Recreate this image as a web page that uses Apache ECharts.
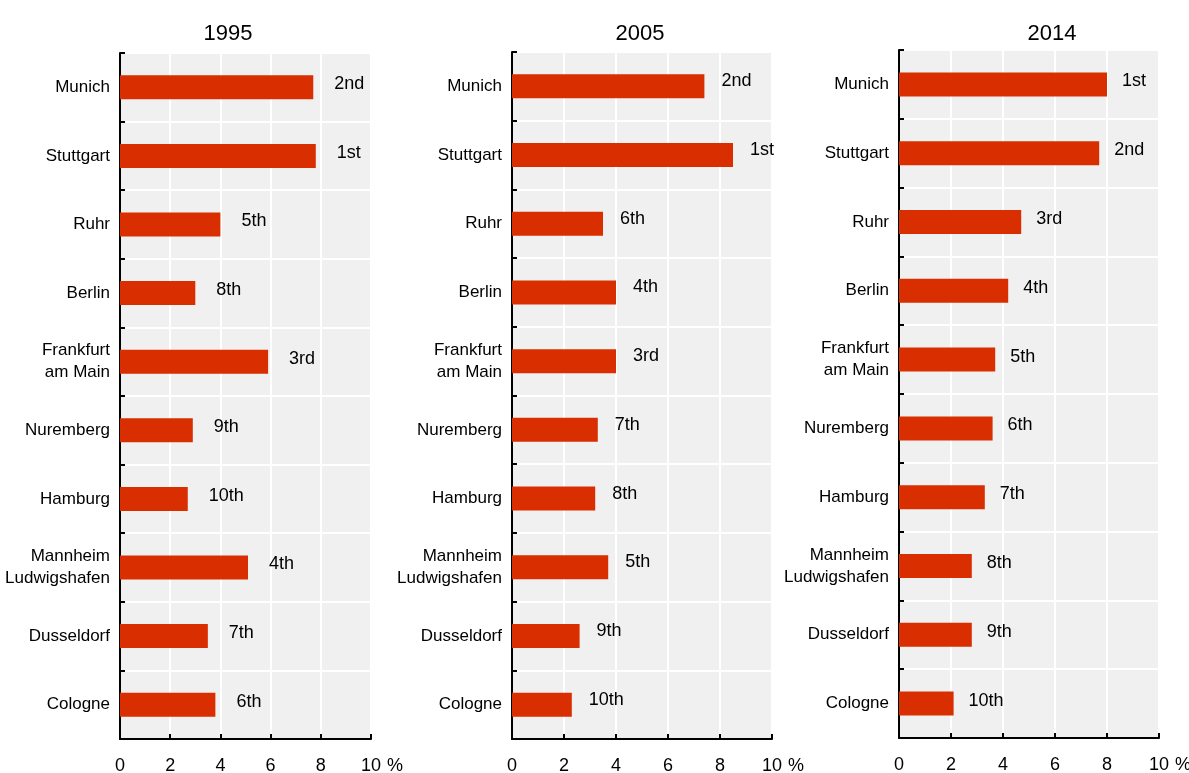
<!DOCTYPE html>
<html>
<head>
<meta charset="utf-8">
<script src="https://cdn.jsdelivr.net/npm/echarts@6/dist/echarts.min.js"></script>
<style>
  html, body { margin: 0; padding: 0; background: #fff; }
  #chart { width: 1189px; height: 773px; }
</style>
</head>
<body>
<div id="chart"></div>
<script>
// data
var years = ['1995', '2005', '2014'];
var cities = ['Munich', 'Stuttgart', 'Ruhr', 'Berlin', 'Frankfurt\nam Main', 'Nuremberg',
    'Hamburg', 'Mannheim\nLudwigshafen', 'Dusseldorf', 'Cologne'];
var values1995 = [7.7, 7.8, 4.0, 3.0, 5.9, 2.9, 2.7, 5.1, 3.5, 3.8];
var values2005 = [7.4, 8.5, 3.5, 4.0, 4.0, 3.3, 3.2, 3.7, 2.6, 2.3];
var values2014 = [8.0, 7.7, 4.7, 4.2, 3.7, 3.6, 3.3, 2.8, 2.8, 2.1];
var ranks1995 = ['2nd', '1st', '5th', '8th', '3rd', '9th', '10th', '4th', '7th', '6th'];
var ranks2005 = ['2nd', '1st', '6th', '4th', '3rd', '7th', '8th', '5th', '9th', '10th'];
var ranks2014 = ['1st', '2nd', '3rd', '4th', '5th', '6th', '7th', '8th', '9th', '10th'];

var allValues = [values1995, values2005, values2014];
var allRanks = [ranks1995, ranks2005, ranks2014];

// check whether a narrow font is installed, otherwise shrink the regular one
function hasFont(name) {
    var ctx = document.createElement('canvas').getContext('2d');
    var s = 'Mannheim Ludwigshafen 0123456789';
    ctx.font = '40px monospace';
    var a = ctx.measureText(s).width;
    ctx.font = "40px '" + name + "', monospace";
    return ctx.measureText(s).width !== a;
}
var FONT, FS, TFS;
if (hasFont('Liberation Sans Narrow')) {
    FONT = "'Liberation Sans Narrow', sans-serif"; FS = 20; TFS = 26;
} else if (hasFont('Arial Narrow')) {
    FONT = "'Arial Narrow', sans-serif"; FS = 20; TFS = 26;
} else {
    FONT = "'Liberation Sans', Arial, sans-serif"; FS = 17; TFS = 22;
}
var BAR_COLOR = '#D92E00';

// panel placement
var panels = [
    {left: 120, width: 251, top: 53, height: 686, titleX: 223, nameGap: 16, labelDist: 21, labelDy: -3},
    {left: 512, width: 260, top: 52, height: 687, titleX: 635, nameGap: 8, labelDist: 17, labelDy: -5},
    {left: 899, width: 260, top: 50, height: 688, titleX: 1047, nameGap: 12, labelDist: 15, labelDy: -3}
];

var myChart = echarts.init(document.getElementById('chart'), null, {renderer: 'canvas'});

var grid = [], xAxis = [], yAxis = [], series = [], title = [];

panels.forEach(function (p, i) {
    title.push({
        text: years[i],
        left: p.titleX,
        top: 18,
        textAlign: 'center',
        textStyle: {fontFamily: FONT, fontSize: TFS, fontWeight: 'normal', color: '#000'}
    });
    grid.push({
        left: p.left,
        top: p.top,
        width: p.width,
        height: p.height,
        show: true,
        backgroundColor: '#F0F0F0',
        borderWidth: 0,
        containLabel: false,
        outerBoundsMode: 'none'
    });
    xAxis.push({
        type: 'value',
        gridIndex: i,
        min: 0,
        max: 10,
        interval: 2,
        name: '%',
        nameLocation: 'end',
        nameGap: p.nameGap,
        nameTextStyle: {fontFamily: FONT, fontSize: FS + 1, color: '#000', verticalAlign: 'top', padding: [18, 0, 0, 0]},
        axisLine: {show: true, lineStyle: {color: '#000', width: 2}},
        axisTick: {show: true, inside: true, length: 5, lineStyle: {color: '#000', width: 2}},
        axisLabel: {fontFamily: FONT, fontSize: FS + 1, color: '#000', margin: 18},
        splitLine: {show: true, lineStyle: {color: '#fff', width: 2}}
    });
    yAxis.push({
        type: 'category',
        gridIndex: i,
        data: cities,
        inverse: true,
        axisLine: {show: true, lineStyle: {color: '#000', width: 2}},
        axisTick: {show: true, inside: true, length: 5, lineStyle: {color: '#000', width: 2}},
        axisLabel: {fontFamily: FONT, fontSize: FS, color: '#000', margin: 10, lineHeight: 22},
        splitLine: {show: true, lineStyle: {color: '#fff', width: 2}}
    });
    var ranks = allRanks[i];
    series.push({
        type: 'bar',
        name: years[i],
        xAxisIndex: i,
        yAxisIndex: i,
        data: allValues[i],
        barWidth: 24,
        itemStyle: {color: BAR_COLOR},
        label: {
            show: true,
            position: 'right',
            distance: p.labelDist,
            offset: [0, p.labelDy],
            fontFamily: FONT,
            fontSize: FS + 1,
            color: '#000',
            formatter: function (params) { return ranks[params.dataIndex]; }
        },
        silent: true
    });
});

myChart.setOption({
    animation: false,
    title: title,
    grid: grid,
    xAxis: xAxis,
    yAxis: yAxis,
    series: series
});
</script>
</body>
</html>
